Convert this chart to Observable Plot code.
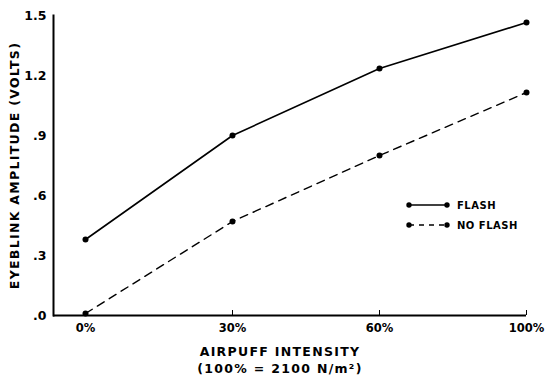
<!DOCTYPE html>
<html><head><meta charset="utf-8">
<script src="https://cdn.jsdelivr.net/npm/d3@7"></script>
<script src="https://cdn.jsdelivr.net/npm/@observablehq/plot@0.6"></script>
<style>
body{margin:0;background:#fff;}
#wrap{position:relative;width:546px;height:381px;font-family:"DejaVu Sans",sans-serif;}
#legend{position:absolute;left:405px;top:195px;font:bold 10px "DejaVu Sans",sans-serif;letter-spacing:0.5px;}
</style></head>
<body><div id="wrap"><div id="legend"></div></div>
<script>
const categories = ["0%", "30%", "60%", "100%"];
const flash = [0.38, 0.90, 1.235, 1.465];
const noFlash = [0.01, 0.47, 0.80, 1.115];
const yTicks = [0, 0.3, 0.6, 0.9, 1.2, 1.5];
const yTickLabels = [".0", ".3", ".6", ".9", "1.2", "1.5"];
const seriesNames = ["FLASH", "NO FLASH"];

const data = [
  ...categories.map((c, i) => ({cat: c, v: flash[i], s: "FLASH"})),
  ...categories.map((c, i) => ({cat: c, v: noFlash[i], s: "NO FLASH"}))
];

const font = "DejaVu Sans, sans-serif";
const chart = Plot.plot({
  width: 546, height: 381,
  marginLeft: 53, marginRight: 20, marginTop: 15, marginBottom: 66,
  style: {fontFamily: font, fontWeight: "bold", fontSize: "11px", color: "#000", background: "#fff"},
  x: {type: "point", domain: categories, range: [85, 526], padding: 0},
  y: {domain: [0, 1.5]},
  marks: [
    Plot.ruleY([0], {stroke: "#000", strokeWidth: 2}),
    Plot.axisX({ticks: categories, tickSize: 0, tickPadding: 8, label: null, fontSize: 11.5, fontWeight: "bold"}),
    Plot.axisY({ticks: yTicks, tickFormat: (d) => yTickLabels[yTicks.indexOf(d)], tickSize: 0, tickPadding: 7, label: null, fontSize: 12.5, fontWeight: "bold"}),
    Plot.ruleX(categories.slice(1), {x: d => d, y1: 0, y2: 0.025, stroke: "#000", strokeWidth: 1}),
    Plot.frame({anchor: "left", stroke: "#000", strokeWidth: 2}),
    Plot.line(data.filter(d => d.s === "FLASH"), {x: "cat", y: "v", stroke: "#000", strokeWidth: 1.6}),
    Plot.line(data.filter(d => d.s === "NO FLASH"), {x: "cat", y: "v", stroke: "#000", strokeWidth: 1.4, strokeDasharray: "8,6"}),
    Plot.dot(data, {x: "cat", y: "v", r: 3, fill: "#000"}),
    Plot.text(["AIRPUFF INTENSITY\n(100% = 2100 N/m²)"], {frameAnchor: "bottom", lineAnchor: "top", dy: 28, dx: -10, fontSize: 12.5, fontWeight: "bold", lineHeight: 1.4, style: {letterSpacing: "1px"}}),
    Plot.text(["EYEBLINK AMPLITUDE (VOLTS)"], {frameAnchor: "left", textAnchor: "middle", rotate: -90, dx: -39, fontSize: 12.5, fontWeight: "bold"})
  ]
});
document.getElementById("wrap").prepend(chart);
chart.querySelectorAll("text").forEach(t => {
  if (/AIRPUFF|EYEBLINK/.test(t.textContent)) t.setAttribute("letter-spacing", "1.3px");
});

const lg = d3.select("#legend");
seriesNames.forEach((name, i) => {
  const row = lg.append("div").style("display", "flex").style("align-items", "center").style("height", "20px");
  const s = row.append("svg").attr("width", 50).attr("height", 10);
  s.append("line").attr("x1", 4).attr("x2", 42).attr("y1", 5).attr("y2", 5)
    .attr("stroke", "#000").attr("stroke-width", 1.5).attr("stroke-dasharray", i ? "5,5" : null);
  s.append("circle").attr("cx", 4).attr("cy", 5).attr("r", 2.7);
  s.append("circle").attr("cx", 42).attr("cy", 5).attr("r", 2.7);
  row.append("span").text(name).style("margin-left", "2px");
});
</script>
</body></html>
